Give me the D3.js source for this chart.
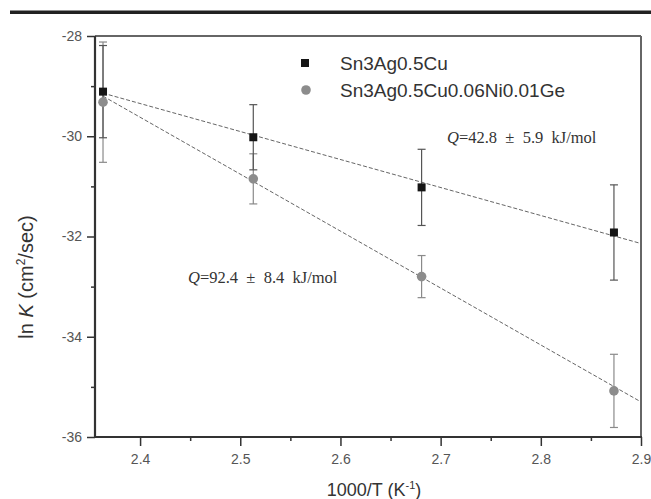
<!DOCTYPE html>
<html><head><meta charset="utf-8">
<script src="https://cdn.jsdelivr.net/npm/d3@7"></script>
<style>body{margin:0;background:#fff}svg{display:block}</style>
</head><body>
<svg id="c" width="651" height="499"></svg>
<script>
const xVals = [2.363, 2.513, 2.681, 2.873];
const sacY = [-29.11, -30.02, -31.02, -31.92];
const sacErr = [0.92, 0.65, 0.76, 0.95];
const niY = [-29.32, -30.85, -32.80, -35.08];
const niErr = [1.2, 0.5, 0.42, 0.73];
const fitX = [2.363, 2.9];
const fitSac = [-29.14, -32.14];
const fitNi = [-29.2, -35.3];
const xTicks = [2.4, 2.5, 2.6, 2.7, 2.8, 2.9];
const xMinor = [2.45, 2.55, 2.65, 2.75, 2.85];
const yTicks = [-28, -30, -32, -34, -36];
const yMinor = [-29, -31, -33, -35];
const legendNames = ["Sn3Ag0.5Cu", "Sn3Ag0.5Cu0.06Ni0.01Ge"];

const svg = d3.select("#c");
const L = 95, R = 641, T = 36, B = 437;
const x = d3.scaleLinear().domain([2.355, 2.9]).range([L, R]);
const y = d3.scaleLinear().domain([-36, -28]).range([B, T]);

// top rule
svg.append("rect").attr("x", 10).attr("y", 10.5).attr("width", 641).attr("height", 3.5).attr("fill", "#222");

// axes
const gx = svg.append("g").attr("transform", `translate(0,${B})`)
  .call(d3.axisBottom(x).tickValues(xTicks).tickSize(9).tickFormat(d3.format(".1f")));
gx.select(".domain").remove();
gx.selectAll("line").attr("stroke", "#333").attr("stroke-width", 1.5);
gx.selectAll("text").attr("font-family", "Liberation Sans, Arial, sans-serif").attr("font-size", 14).attr("fill", "#555").attr("dy", "1.05em");
const gxm = svg.append("g").attr("transform", `translate(0,${B})`)
  .call(d3.axisBottom(x).tickValues(xMinor).tickSize(4).tickFormat(""));
gxm.select(".domain").remove();
gxm.selectAll("line").attr("stroke", "#333").attr("stroke-width", 1.5);

const gy = svg.append("g").attr("transform", `translate(${L},0)`)
  .call(d3.axisLeft(y).tickValues(yTicks).tickSize(8).tickFormat(d => String(d)));
gy.select(".domain").remove();
gy.selectAll("line").attr("stroke", "#333").attr("stroke-width", 1.5);
gy.selectAll("text").attr("font-family", "Liberation Sans, Arial, sans-serif").attr("font-size", 14).attr("fill", "#555").attr("x", -13);
const gym = svg.append("g").attr("transform", `translate(${L},0)`)
  .call(d3.axisLeft(y).tickValues(yMinor).tickSize(4).tickFormat(""));
gym.select(".domain").remove();
gym.selectAll("line").attr("stroke", "#333").attr("stroke-width", 1.5);

// frame
svg.append("line").attr("x1", L).attr("x2", R).attr("y1", T).attr("y2", T).attr("stroke", "#333").attr("stroke-width", 1.5);
svg.append("line").attr("x1", R).attr("x2", R).attr("y1", T).attr("y2", B).attr("stroke", "#666").attr("stroke-width", 2);
svg.append("line").attr("x1", L).attr("x2", L).attr("y1", T).attr("y2", B + 1).attr("stroke", "#333").attr("stroke-width", 2.2);
svg.append("line").attr("x1", L - 1).attr("x2", R + 1).attr("y1", B).attr("y2", B).attr("stroke", "#333").attr("stroke-width", 2.2);

// fit lines
const line = d3.line().x(d => x(d[0])).y(d => y(d[1]));
svg.append("path").attr("d", line(fitX.map((v, i) => [v, fitSac[i]])))
  .attr("fill", "none").attr("stroke", "#666").attr("stroke-width", 1).attr("stroke-dasharray", "4,2");
svg.append("path").attr("d", line(fitX.map((v, i) => [v, fitNi[i]])))
  .attr("fill", "none").attr("stroke", "#666").attr("stroke-width", 1).attr("stroke-dasharray", "4,2");

// error bars
function errBars(vals, errs, color) {
  const g = svg.append("g").attr("stroke", color).attr("stroke-width", 1.2);
  xVals.forEach((xv, i) => {
    const cx = x(xv), y1 = y(vals[i] + errs[i]), y2 = y(vals[i] - errs[i]);
    g.append("line").attr("x1", cx).attr("x2", cx).attr("y1", y1).attr("y2", y2);
    g.append("line").attr("x1", cx - 4).attr("x2", cx + 4).attr("y1", y1).attr("y2", y1);
    g.append("line").attr("x1", cx - 4).attr("x2", cx + 4).attr("y1", y2).attr("y2", y2);
  });
}
errBars(niY, niErr, "#8a8a8a");
errBars(sacY, sacErr, "#555");

// markers
svg.append("g").selectAll("circle").data(xVals).join("circle")
  .attr("cx", d => x(d)).attr("cy", (d, i) => y(niY[i])).attr("r", 4.8).attr("fill", "#8c8c8c");
svg.append("g").selectAll("rect").data(xVals).join("rect")
  .attr("x", d => x(d) - 4).attr("y", (d, i) => y(sacY[i]) - 4).attr("width", 8).attr("height", 8).attr("fill", "#151515");

// legend
const lg = svg.append("g").attr("font-family", "Liberation Sans, Arial, sans-serif").attr("font-size", 19).attr("fill", "#333");
lg.append("rect").attr("x", 301).attr("y", 59).attr("width", 8).attr("height", 8).attr("fill", "#151515");
lg.append("circle").attr("cx", 306).attr("cy", 90).attr("r", 4.8).attr("fill", "#8c8c8c");
lg.append("text").attr("x", 340).attr("y", 70).text(legendNames[0]);
lg.append("text").attr("x", 340).attr("y", 97).text(legendNames[1]);

// annotations
function qText(tx, ty, q, e) {
  const t = svg.append("text").attr("x", tx).attr("y", ty)
    .attr("font-family", "Liberation Serif, Times New Roman, serif").attr("font-size", 16.5).attr("fill", "#333")
    .style("white-space", "pre");
  t.append("tspan").attr("font-style", "italic").text("Q");
  t.append("tspan").text(`=${q}  \u00B1  ${e}  kJ/mol`);
}
qText(447, 143, "42.8", "5.9");
qText(188, 283, "92.4", "8.4");

// axis titles
const xt = svg.append("text").attr("x", 374).attr("y", 496).attr("text-anchor", "middle")
  .attr("font-family", "Liberation Sans, Arial, sans-serif").attr("font-size", 18).attr("fill", "#333");
xt.append("tspan").text("1000/T (K");
xt.append("tspan").attr("font-size", 11).attr("dy", -7).text("-1");
xt.append("tspan").attr("dy", 7).text(")");

const yt = svg.append("text").attr("transform", "translate(33,277) rotate(-90)").attr("text-anchor", "middle")
  .attr("font-family", "Liberation Sans, Arial, sans-serif").attr("font-size", 20).attr("fill", "#333")
  .style("white-space", "pre");
yt.append("tspan").text("ln ");
yt.append("tspan").attr("font-style", "italic").text("K");
yt.append("tspan").text(" (cm");
yt.append("tspan").attr("font-size", 12).attr("dy", -8).text("2");
yt.append("tspan").attr("dy", 8).text("/sec)");
</script>
</body></html>
